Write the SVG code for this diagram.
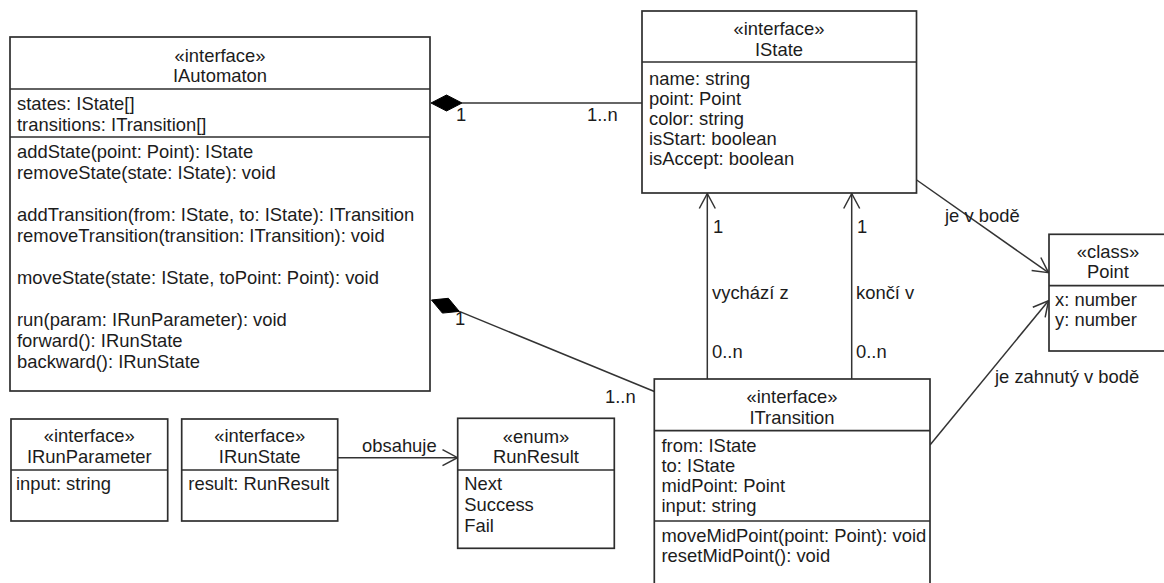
<svg xmlns="http://www.w3.org/2000/svg" width="1164" height="583" viewBox="0 0 1164 583">
  <style>
    .box { fill: #ffffff; stroke: #2e2e2e; stroke-width: 1.7; }
    .sep { stroke: #2e2e2e; stroke-width: 1.7; }
    .t { font-family: "Liberation Sans", Arial, sans-serif; font-size: 18.4px; fill: #1c1c1c; }
    .c { text-anchor: middle; }
    .edge { stroke: #333333; stroke-width: 1.5; fill: none; }
    .diamond { fill: #000000; stroke: #000000; stroke-width: 1; }
  </style>
  <defs>
    <marker id="open" markerUnits="userSpaceOnUse" markerWidth="20" markerHeight="20" viewBox="-17 -10 20 20" refX="0" refY="0" orient="auto">
      <path d="M -15 -8 L 0 0 L -15 8" fill="none" stroke="#333333" stroke-width="1.5"/>
    </marker>
  </defs>
  <rect width="1164" height="583" fill="#ffffff"/>

  <!-- connectors -->
  <g id="connectors">
    <!-- IAutomaton composes IState -->
    <line class="edge" x1="462" y1="103" x2="642" y2="103"/>
    <polygon class="diamond" points="431,103 446.5,95 462,103 446.5,111"/>
    <text class="t" x="456" y="121">1</text>
    <text class="t" x="587" y="121">1..n</text>

    <!-- IAutomaton composes ITransition -->
    <line class="edge" x1="459.3" y1="311.4" x2="655" y2="391.7"/>
    <polygon class="diamond" points="431.5,300 448.4,298.3 459.3,311.4 442.4,313.1"/>
    <text class="t" x="455" y="325">1</text>
    <text class="t" x="605" y="403">1..n</text>

    <!-- ITransition.from -> IState -->
    <line class="edge" x1="707.3" y1="379" x2="707.3" y2="193.5" marker-end="url(#open)"/>
    <text class="t" x="713" y="233">1</text>
    <text class="t" x="712" y="299">vychází z</text>
    <text class="t" x="712" y="358">0..n</text>

    <!-- ITransition.to -> IState -->
    <line class="edge" x1="851.7" y1="379" x2="851.7" y2="193.5" marker-end="url(#open)"/>
    <text class="t" x="857" y="233">1</text>
    <text class="t" x="856" y="299">končí v</text>
    <text class="t" x="856" y="358">0..n</text>

    <!-- IState -> Point -->
    <line class="edge" x1="916.7" y1="180" x2="1048.5" y2="272.7" marker-end="url(#open)"/>
    <text class="t" x="945" y="222">je v bodě</text>

    <!-- ITransition -> Point -->
    <line class="edge" x1="930" y1="445" x2="1048.5" y2="300.7" marker-end="url(#open)"/>
    <text class="t" x="995" y="383">je zahnutý v bodě</text>

    <!-- IRunState -> RunResult -->
    <line class="edge" x1="337.7" y1="457.7" x2="457.5" y2="457.7" marker-end="url(#open)"/>
    <text class="t" x="362" y="452">obsahuje</text>
  </g>

  <!-- IAutomaton -->
  <g id="IAutomaton">
    <rect class="box" x="10" y="37" width="420" height="354"/>
    <line class="sep" x1="10" y1="89" x2="430" y2="89"/>
    <line class="sep" x1="10" y1="137" x2="430" y2="137"/>
    <text class="t c" x="220" y="61.5">«interface»</text>
    <text class="t c" x="220" y="81.5">IAutomaton</text>
    <text class="t" x="17" y="110">states: IState[]</text>
    <text class="t" x="17" y="131">transitions: ITransition[]</text>
    <text class="t" x="17" y="158">addState(point: Point): IState</text>
    <text class="t" x="17" y="179">removeState(state: IState): void</text>
    <text class="t" x="17" y="221">addTransition(from: IState, to: IState): ITransition</text>
    <text class="t" x="17" y="242">removeTransition(transition: ITransition): void</text>
    <text class="t" x="17" y="284">moveState(state: IState, toPoint: Point): void</text>
    <text class="t" x="17" y="326">run(param: IRunParameter): void</text>
    <text class="t" x="17" y="347">forward(): IRunState</text>
    <text class="t" x="17" y="368">backward(): IRunState</text>
  </g>

  <!-- IState -->
  <g id="IState">
    <rect class="box" x="642" y="11" width="274.5" height="182"/>
    <line class="sep" x1="642" y1="62" x2="916.5" y2="62"/>
    <text class="t c" x="779" y="35">«interface»</text>
    <text class="t c" x="779" y="55.5">IState</text>
    <text class="t" x="649" y="84.5">name: string</text>
    <text class="t" x="649" y="104.5">point: Point</text>
    <text class="t" x="649" y="124.5">color: string</text>
    <text class="t" x="649" y="144.5">isStart: boolean</text>
    <text class="t" x="649" y="164.5">isAccept: boolean</text>
  </g>

  <!-- Point -->
  <g id="Point">
    <rect class="box" x="1049" y="234.3" width="120" height="116.7"/>
    <line class="sep" x1="1049" y1="285.7" x2="1169" y2="285.7"/>
    <text class="t c" x="1108" y="258">«class»</text>
    <text class="t c" x="1108" y="278">Point</text>
    <text class="t" x="1055" y="306">x: number</text>
    <text class="t" x="1055" y="326">y: number</text>
  </g>

  <!-- ITransition -->
  <g id="ITransition">
    <rect class="box" x="654.3" y="379" width="275.7" height="220"/>
    <line class="sep" x1="654.3" y1="430.7" x2="930" y2="430.7"/>
    <line class="sep" x1="654.3" y1="521" x2="930" y2="521"/>
    <text class="t c" x="792" y="403">«interface»</text>
    <text class="t c" x="792" y="423.7">ITransition</text>
    <text class="t" x="661.5" y="451.5">from: IState</text>
    <text class="t" x="661.5" y="471.5">to: IState</text>
    <text class="t" x="661.5" y="491.5">midPoint: Point</text>
    <text class="t" x="661.5" y="511.5">input: string</text>
    <text class="t" x="661.5" y="541.5">moveMidPoint(point: Point): void</text>
    <text class="t" x="661.5" y="561.5">resetMidPoint(): void</text>
  </g>

  <!-- IRunParameter -->
  <g id="IRunParameter">
    <rect class="box" x="11" y="419" width="156.7" height="102"/>
    <line class="sep" x1="11" y1="470" x2="167.7" y2="470"/>
    <text class="t c" x="89.3" y="441.5">«interface»</text>
    <text class="t c" x="89.3" y="463">IRunParameter</text>
    <text class="t" x="16" y="490">input: string</text>
  </g>

  <!-- IRunState -->
  <g id="IRunState">
    <rect class="box" x="181.7" y="419" width="156" height="102"/>
    <line class="sep" x1="181.7" y1="470" x2="337.7" y2="470"/>
    <text class="t c" x="259.7" y="441.5">«interface»</text>
    <text class="t c" x="259.7" y="463">IRunState</text>
    <text class="t" x="188.3" y="490">result: RunResult</text>
  </g>

  <!-- RunResult -->
  <g id="RunResult">
    <rect class="box" x="457.7" y="418.3" width="156.6" height="130"/>
    <line class="sep" x1="457.7" y1="470" x2="614.3" y2="470"/>
    <text class="t c" x="536" y="443">«enum»</text>
    <text class="t c" x="536" y="463">RunResult</text>
    <text class="t" x="464.3" y="489.7">Next</text>
    <text class="t" x="464.3" y="511.4">Success</text>
    <text class="t" x="464.3" y="532.4">Fail</text>
  </g>
</svg>
